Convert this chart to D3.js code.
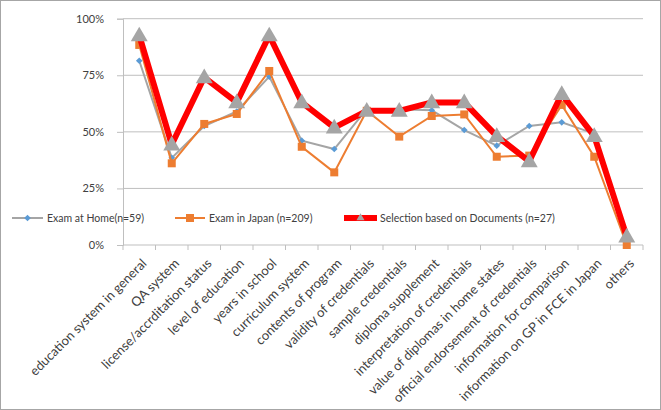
<!DOCTYPE html>
<html>
<head>
<meta charset="utf-8">
<script src="https://cdn.jsdelivr.net/npm/d3@7.9.0/dist/d3.min.js"></script>
<style>
  body { margin: 0; background: #fff; }
  svg text { font-family: Lato, 'Liberation Sans', sans-serif; fill: #404040; }
</style>
</head>
<body>
<svg id="chart" width="661" height="410"></svg>
<script>
const categories = [
    'education system in general', 'QA system', 'license/accrditation status',
    'level of education', 'years in school', 'curriculum system', 'contents of program',
    'validity of credentials', 'sample credentials', 'diploma supplement',
    'interpretation of credentials', 'value of diplomas in home states',
    'official endorsement of credentials', 'information for comparison',
    'information on GP in FCE in Japan', 'others'
];
const examHome = [81.4, 38.5, 52.6, 59, 74.4, 46.1, 42.4, 60, 60, 59.5, 50.8, 43.9, 52.6, 54.2, 49.2, 1];
const examJapan = [88.4, 36.1, 53.5, 57.9, 76.9, 43.4, 32.1, 59.3, 47.9, 57, 57.7, 39, 39.5, 61.9, 39, 0];
const selection = [92.6, 44.4, 74.1, 63, 92.6, 63, 51.9, 59.3, 59.3, 63, 63, 48.1, 37, 66.7, 48.1, 3.7];
const yTicks = [0, 25, 50, 75, 100];
const seriesNames = ['Exam at Home(n=59)', 'Exam in Japan (n=209)', 'Selection based on Documents (n=27)'];

const svg = d3.select('#chart');
const plotLeft = 123, plotRight = 643, plotTop = 18.7, plotBottom = 245;

// outer border like the exported chart
svg.append('rect').attr('x', 0.5).attr('y', 0.5).attr('width', 660).attr('height', 409)
    .attr('fill', '#fff').attr('stroke', '#a6a6a6');

const x = d3.scaleBand().domain(categories).range([plotLeft, plotRight]);
const y = d3.scaleLinear().domain([0, 100]).range([plotBottom, plotTop]);

// gridlines + y labels
const yAxis = svg.append('g').attr('transform', `translate(${plotLeft},0)`)
    .call(d3.axisLeft(y).tickValues(yTicks).tickSize(6).tickFormat(d => d + '%'));
yAxis.select('.domain').attr('stroke', '#bfbfbf');
yAxis.selectAll('.tick line').attr('stroke', '#bfbfbf');
yAxis.selectAll('.tick text').attr('font-size', 11).attr('fill', '#404040').attr('x', -19);
svg.append('g').selectAll('line').data(yTicks.filter(d => d > 0)).join('line')
    .attr('x1', plotLeft).attr('x2', plotRight)
    .attr('y1', d => y(d)).attr('y2', d => y(d))
    .attr('stroke', '#bfbfbf');

// x axis with ticks between categories
svg.append('line').attr('x1', plotLeft).attr('x2', plotRight).attr('y1', plotBottom).attr('y2', plotBottom)
    .attr('stroke', '#bfbfbf');
svg.append('g').selectAll('line').data(d3.range(categories.length + 1)).join('line')
    .attr('x1', i => plotLeft + i * x.step()).attr('x2', i => plotLeft + i * x.step())
    .attr('y1', plotBottom).attr('y2', plotBottom + 5).attr('stroke', '#bfbfbf');
svg.append('g').selectAll('text').data(categories).join('text')
    .attr('transform', d => `translate(${x(d) + x.bandwidth() / 2 + 5},${plotBottom + 16}) rotate(-45)`)
    .attr('text-anchor', 'end').attr('dy', '0.35em').attr('font-size', 13)
    .text(d => d);

const cx = (d, i) => x(categories[i]) + x.bandwidth() / 2;
const line = d3.line().x((d, i) => cx(d, i)).y(d => y(d));

// series 1: gray line with blue diamonds
svg.append('path').attr('d', line(examHome)).attr('fill', 'none')
    .attr('stroke', '#a5a5a5').attr('stroke-width', 2);
svg.append('g').selectAll('path').data(examHome).join('path')
    .attr('d', d3.symbol(d3.symbolDiamond2, 28))
    .attr('transform', (d, i) => `translate(${cx(d, i)},${y(d)})`)
    .attr('fill', '#5b9bd5');

// series 2: orange line with squares
svg.append('path').attr('d', line(examJapan)).attr('fill', 'none')
    .attr('stroke', '#ed7d31').attr('stroke-width', 2);
svg.append('g').selectAll('rect').data(examJapan).join('rect')
    .attr('x', (d, i) => cx(d, i) - 4).attr('y', d => y(d) - 4)
    .attr('width', 8).attr('height', 8).attr('fill', '#ed7d31');

// series 3: thick red line with gray triangles
svg.append('path').attr('d', line(selection)).attr('fill', 'none')
    .attr('stroke', '#ff0000').attr('stroke-width', 6).attr('stroke-linejoin', 'round');
svg.append('g').selectAll('path').data(selection).join('path')
    .attr('d', d3.symbol(d3.symbolTriangle, 125))
    .attr('transform', (d, i) => `translate(${cx(d, i)},${y(d) + 1})`)
    .attr('fill', '#a5a5a5');

// legend
const ly = 218;
const legend = svg.append('g');
const items = [
    { x1: 12, x2: 43, tx: 47, stroke: '#a5a5a5', sw: 2, marker: 'diamond' },
    { x1: 175, x2: 205, tx: 209, stroke: '#ed7d31', sw: 2, marker: 'square' },
    { x1: 344, x2: 377, tx: 380, stroke: '#ff0000', sw: 6, marker: 'triangle' }
];
items.forEach((it, i) => {
    legend.append('line').attr('x1', it.x1).attr('x2', it.x2).attr('y1', ly).attr('y2', ly)
        .attr('stroke', it.stroke).attr('stroke-width', it.sw);
    const mx = (it.x1 + it.x2) / 2;
    if (it.marker === 'diamond') {
        legend.append('path').attr('d', d3.symbol(d3.symbolDiamond2, 28))
            .attr('transform', `translate(${mx},${ly})`).attr('fill', '#5b9bd5');
    } else if (it.marker === 'square') {
        legend.append('rect').attr('x', mx - 4).attr('y', ly - 4).attr('width', 8).attr('height', 8)
            .attr('fill', '#ed7d31');
    } else {
        legend.append('path').attr('d', d3.symbol(d3.symbolTriangle, 28))
            .attr('transform', `translate(${mx},${ly})`).attr('fill', '#a5a5a5');
    }
    legend.append('text').attr('x', it.tx).attr('y', ly).attr('dy', '0.35em')
        .attr('font-size', 10.5).text(seriesNames[i]);
});
</script>
</body>
</html>
